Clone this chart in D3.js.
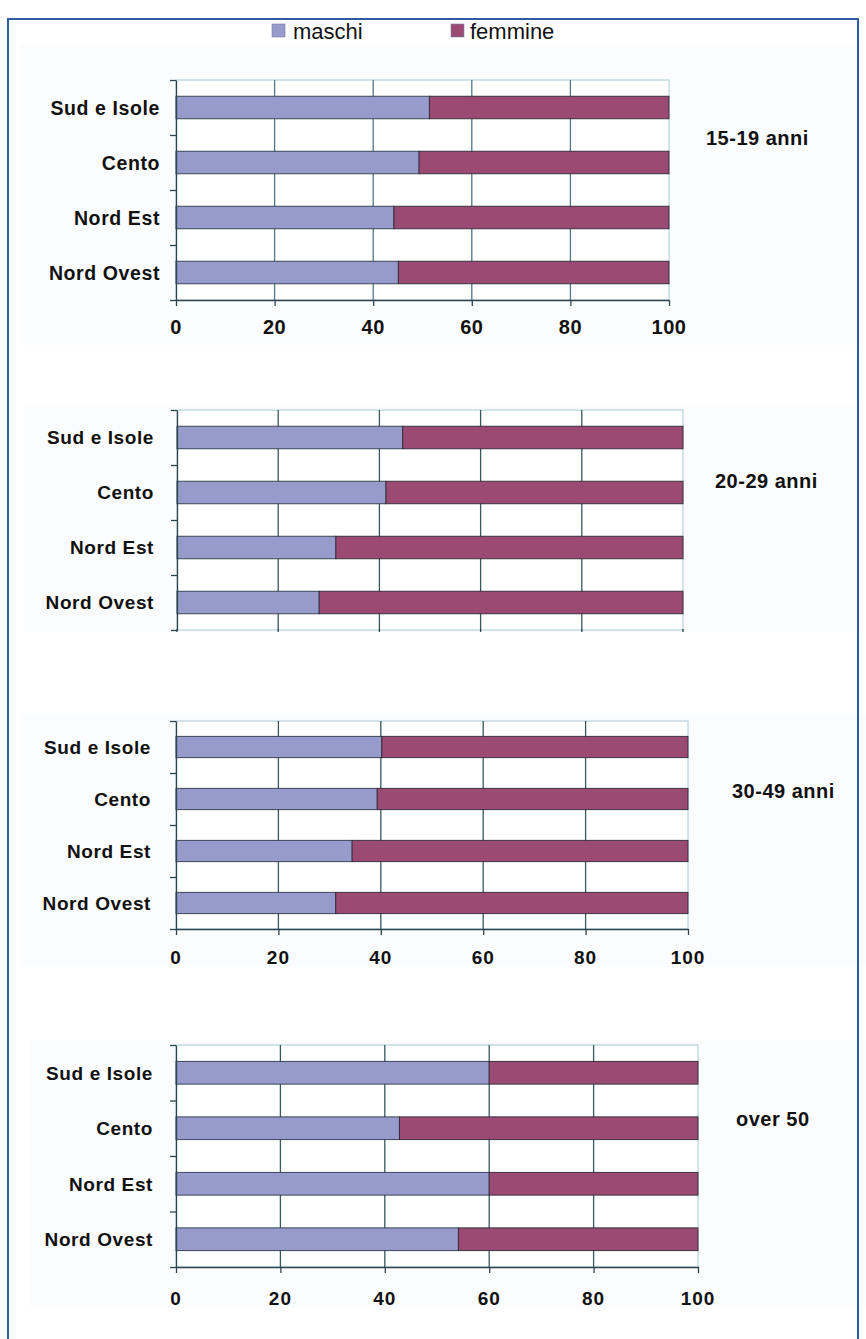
<!DOCTYPE html>
<html>
<head>
<meta charset="utf-8">
<script src="https://cdn.jsdelivr.net/npm/d3@7"></script>
<style>
  html, body { margin: 0; padding: 0; background: #ffffff; }
  svg { display: block; }
</style>
</head>
<body>
<script>
// Regions (top to bottom in each panel)
const categories = ["Sud e Isole", "Cento", "Nord Est", "Nord Ovest"];
const seriesNames = ["maschi", "femmine"];
const ageGroups = ["15-19 anni", "20-29 anni", "30-49 anni", "over 50"];
const xTicks = [0, 20, 40, 60, 80, 100];

// Percentage shares per region, by age group
const maschi_15_19 = [51.4, 49.3, 44.2, 45.1];
const femmine_15_19 = [48.6, 50.7, 55.8, 54.9];
const maschi_20_29 = [44.6, 41.3, 31.4, 28.1];
const femmine_20_29 = [55.4, 58.7, 68.6, 71.9];
const maschi_30_49 = [40.2, 39.3, 34.4, 31.2];
const femmine_30_49 = [59.8, 60.7, 65.6, 68.8];
const maschi_over50 = [60.0, 42.8, 60.0, 54.1];
const femmine_over50 = [40.0, 57.2, 40.0, 45.9];

const maschiByAge = [maschi_15_19, maschi_20_29, maschi_30_49, maschi_over50];
const femmineByAge = [femmine_15_19, femmine_20_29, femmine_30_49, femmine_over50];

const W = 866, H = 1339;
const colors = { maschi: "#969bcc", femmine: "#9b4a73" };

// Panel geometry
const panels = [
  { x0: 176, x1: 669, top: 80, bottom: 300, labelX: 160, tickY: 327, ticks: true,
    age: [706, 138], bg: [20, 45, 840, 300], labelSize: 19.5, grid: "#4f7a86" },
  { x0: 177, x1: 683, top: 410, bottom: 630, labelX: 154, tickY: null, ticks: false,
    age: [715, 481], bg: [24, 404, 836, 228], labelSize: 19, grid: "#36585f" },
  { x0: 176, x1: 688, top: 721, bottom: 929, labelX: 151, tickY: 957, ticks: true,
    age: [732, 791], bg: [20, 713, 846, 254], labelSize: 19, grid: "#36585f" },
  { x0: 176, x1: 698, top: 1045, bottom: 1267, labelX: 153, tickY: 1298, ticks: true,
    age: [736, 1119], bg: [30, 1040, 836, 268], labelSize: 19, grid: "#36585f" }
];

const svg = d3.select("body").append("svg")
  .attr("width", W).attr("height", H)
  .style("font-family", "'Liberation Sans', Arial, sans-serif");

svg.append("rect").attr("width", W).attr("height", H).attr("fill", "#ffffff");

// Legend
const legend = svg.append("g");
const legendPos = [[272, 293], [451, 470]];
seriesNames.forEach((name, i) => {
  legend.append("rect")
    .attr("x", legendPos[i][0]).attr("y", 24).attr("width", 13).attr("height", 13)
    .attr("fill", colors[name]).attr("stroke", "#7c7fa8").attr("stroke-width", 0.6);
  legend.append("text")
    .attr("x", legendPos[i][1]).attr("y", 31).attr("dy", "0.36em")
    .attr("font-size", 22).attr("fill", "#111")
    .text(name);
});

panels.forEach((p, k) => {
  const g = svg.append("g");
  const maschi = maschiByAge[k];
  const femmine = femmineByAge[k];

  g.append("rect")
    .attr("x", p.bg[0]).attr("y", p.bg[1]).attr("width", p.bg[2]).attr("height", p.bg[3])
    .attr("fill", "#fbfcfd");

  const x = d3.scaleLinear().domain([0, 100]).range([p.x0, p.x1]);
  const y = d3.scaleBand().domain(categories).range([p.top, p.bottom])
    .paddingInner(0.59).paddingOuter(0.295);
  const yEdges = d3.scaleLinear().domain([0, categories.length]).range([p.top, p.bottom]);

  // plot area
  g.append("rect")
    .attr("x", p.x0).attr("y", p.top).attr("width", p.x1 - p.x0).attr("height", p.bottom - p.top)
    .attr("fill", "#ffffff").attr("stroke", "#a7c9d4").attr("stroke-width", 1);

  // vertical gridlines
  g.selectAll("line.grid").data(xTicks.slice(1, -1)).join("line")
    .attr("class", "grid")
    .attr("x1", d => x(d)).attr("x2", d => x(d))
    .attr("y1", p.top).attr("y2", p.bottom)
    .attr("stroke", p.grid).attr("stroke-width", 1.3);

  // stacked bars
  const rows = categories.map((c, i) => ({ c, m: maschi[i], f: femmine[i] }));
  g.selectAll("rect.m").data(rows).join("rect")
    .attr("class", "m")
    .attr("x", x(0)).attr("y", d => y(d.c))
    .attr("width", d => x(d.m) - x(0)).attr("height", y.bandwidth())
    .attr("fill", colors.maschi).attr("stroke", "#2e3a48").attr("stroke-width", 0.9);
  g.selectAll("rect.f").data(rows).join("rect")
    .attr("class", "f")
    .attr("x", d => x(d.m)).attr("y", d => y(d.c))
    .attr("width", d => x(d.m + d.f) - x(d.m)).attr("height", y.bandwidth())
    .attr("fill", colors.femmine).attr("stroke", "#2e2a38").attr("stroke-width", 0.9);

  // left axis with ticks on category boundaries
  const leftAxis = d3.axisLeft(yEdges).tickValues(d3.range(0, categories.length + 1))
    .tickFormat("").tickSize(6).tickSizeOuter(0);
  const la = g.append("g").attr("transform", `translate(${p.x0},0)`).call(leftAxis);
  la.selectAll("path, line").attr("stroke", "#2c4650").attr("stroke-width", 1.3);

  // bottom axis
  if (p.ticks) {
    const bottomAxis = d3.axisBottom(x).tickValues(xTicks).tickFormat("").tickSize(6).tickSizeOuter(0);
    const ba = g.append("g").attr("transform", `translate(0,${p.bottom})`).call(bottomAxis);
    ba.selectAll("path, line").attr("stroke", "#2c4650").attr("stroke-width", 1.3);
    g.selectAll("text.tick").data(xTicks).join("text")
      .attr("class", "tick")
      .attr("x", d => x(d)).attr("y", p.tickY).attr("dy", "0.36em")
      .attr("text-anchor", "middle")
      .attr("font-size", k === 0 ? 20 : 19)
      .attr("font-weight", "bold")
      .attr("letter-spacing", k === 0 ? 0.5 : 1)
      .attr("fill", "#111")
      .text(d => d);
  } else {
    // gridlines continue past the cropped bottom edge
    g.selectAll("line.gext").data(xTicks).join("line")
      .attr("class", "gext")
      .attr("x1", d => x(d)).attr("x2", d => x(d))
      .attr("y1", p.bottom - 1).attr("y2", p.bottom + 2)
      .attr("stroke", "#2c4650").attr("stroke-width", 1.3);
  }

  // category labels
  g.selectAll("text.cat").data(categories).join("text")
    .attr("class", "cat")
    .attr("x", p.labelX).attr("y", d => y(d) + y.bandwidth() / 2)
    .attr("dy", "0.36em")
    .attr("text-anchor", "end")
    .attr("font-weight", "bold")
    .attr("font-size", p.labelSize)
    .attr("letter-spacing", 0.6)
    .attr("fill", "#111")
    .text(d => d);

  // age group label
  g.append("text")
    .attr("x", p.age[0]).attr("y", p.age[1]).attr("dy", "0.36em")
    .attr("font-weight", "bold").attr("font-size", 20).attr("letter-spacing", 0.5)
    .attr("fill", "#111")
    .text(ageGroups[k]);
});

// Outer frame, drawn over the panels
svg.append("path")
  .attr("d", `M8,${H} V19 H858 V${H}`)
  .attr("fill", "none").attr("stroke", "#2f5ba3").attr("stroke-width", 2);
</script>
</body>
</html>
